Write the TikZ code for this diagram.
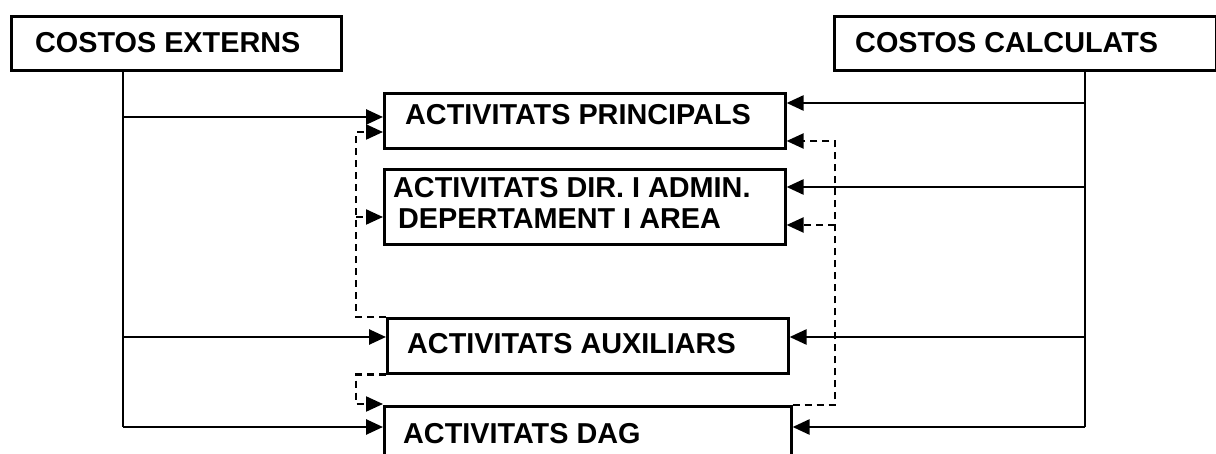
\documentclass[tikz,border=0pt]{standalone}
\usepackage{fontspec}
\setmainfont{Liberation Sans}
\usetikzlibrary{arrows.meta}
\begin{document}
\begin{tikzpicture}[x=1pt,y=-1pt,
  box/.style={draw=black,line width=2.6pt,inner sep=0pt,anchor=north west},
  lbl/.style={inner sep=0pt,anchor=base west,font=\fontsize{28.8}{34}\selectfont\bfseries},
  solidline/.style={line width=2.6pt},
  arr/.style={line width=2.6pt,-{Triangle[length=17pt,width=15pt]}},
  darr/.style={line width=2.2pt,dash pattern=on 7pt off 5pt,-{Triangle[length=17pt,width=15pt]}}]
\useasboundingbox (0,0) rectangle (1216,454);
\clip (0,0) rectangle (1216,454);
% boxes
\node[box,minimum width=330pt,minimum height=54pt] (ce) at (10,15) {};
\node[box,minimum width=382pt,minimum height=54pt] (cc) at (833,15) {};
\node[box,minimum width=401pt,minimum height=55pt] (pa) at (383,92) {};
\node[box,minimum width=401pt,minimum height=75pt] (dir) at (383,168) {};
\node[box,minimum width=401pt,minimum height=55pt] (aux) at (386,317) {};
\node[box,minimum width=407pt,minimum height=80pt] (dag) at (383,405) {};
% texts
\node[lbl] (ceT) at (35,53) {COSTOS EXTERNS};
\node[lbl] (ccT) at (855,53) {COSTOS CALCULATS};
\node[lbl] (paT) at (405,125) {ACTIVITATS PRINCIPALS};
\node[lbl] (dirT1) at (393,198) {ACTIVITATS DIR. I ADMIN.};
\node[lbl] (dirT2) at (398,229) {DEPERTAMENT I AREA};
\node[lbl] (auxT) at (407,354) {ACTIVITATS AUXILIARS};
\node[lbl] (dagT) at (403,443) {ACTIVITATS DAG};
% helper coordinates
\coordinate (xL) at (123,0);
\coordinate (xR) at (1085,0);
\coordinate (xDL) at (356,0);
\coordinate (xDR) at (835,0);
\coordinate (y117) at (0,117);
\coordinate (y103) at (0,103);
\coordinate (y187) at (0,187);
\coordinate (y337) at (0,337);
\coordinate (y427) at (0,427);
\coordinate (y132) at (0,132);
\coordinate (y217) at (0,217);
\coordinate (y141) at (0,141);
\coordinate (y225) at (0,225);
\coordinate (y404) at (0,404);
% left solid
\draw[solidline] (ce.south -| xL) -- (xL |- y427);
\draw[arr] (xL |- y117) -- (pa.west |- y117);
\draw[arr] (xL |- y337) -- (aux.west |- y337);
\draw[arr] (xL |- y427) -- (dag.west |- y427);
% right solid
\draw[solidline] (cc.south -| xR) -- (xR |- y427);
\draw[arr] (xR |- y103) -- (pa.east |- y103);
\draw[arr] (xR |- y187) -- (dir.east |- y187);
\draw[arr] (xR |- y337) -- (aux.east |- y337);
\draw[arr] (xR |- y427) -- (dag.east |- y427);
% left dashed
\draw[darr] (aux.north west) -- (xDL |- aux.north west) -- (xDL |- y132) -- (pa.west |- y132);
\draw[darr] (xDL |- y217) -- (dir.west |- y217);
\draw[darr] (aux.south west) -- (xDL |- aux.south west) -- (xDL |- y404) -- (dag.west |- y404);
% right dashed
\draw[darr] (dag.north east) -- (xDR |- dag.north east) -- (xDR |- y141) -- (pa.east |- y141);
\draw[darr] (xDR |- y225) -- (dir.east |- y225);
\end{tikzpicture}
\end{document}
